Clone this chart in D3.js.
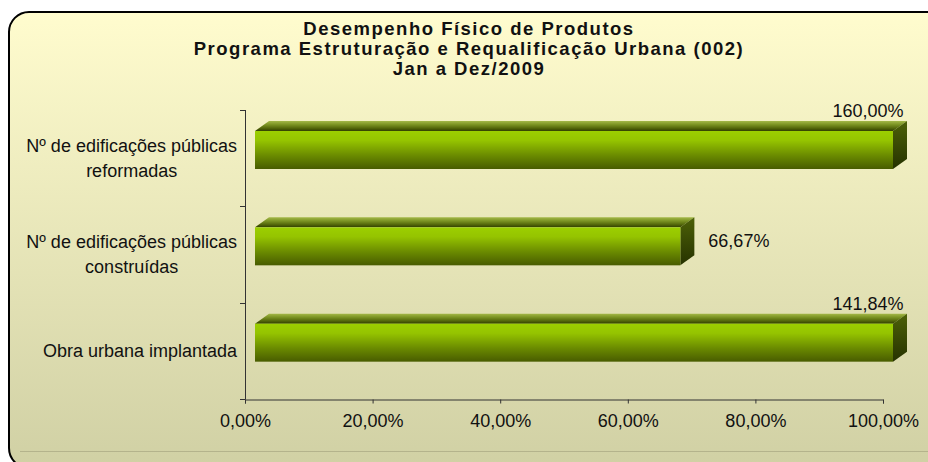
<!DOCTYPE html>
<html>
<head>
<meta charset="utf-8">
<script src="https://cdn.jsdelivr.net/npm/d3@7"></script>
<style>
  html, body { margin: 0; padding: 0; background: #fff; }
  svg { display: block; font-family: 'Liberation Sans', Arial, sans-serif; }
</style>
</head>
<body>
<svg id="chart" width="928" height="462"></svg>
<script>
/* global d3 */
const titleLines = [
  'Desempenho Físico de Produtos',
  'Programa Estruturação e Requalificação Urbana (002)',
  'Jan a Dez/2009'
]
const categories = [
  'Nº de edificações públicas reformadas',
  'Nº de edificações públicas construídas',
  'Obra urbana implantada'
]
const categoryLines = [
  ['Nº de edificações públicas', 'reformadas'],
  ['Nº de edificações públicas', 'construídas'],
  ['Obra urbana implantada']
]
const values = [160.0, 66.67, 141.84]
const xTicks = [0, 20, 40, 60, 80, 100]

const width = 928
const height = 462
const margin = { top: 110, bottom: 63, left: 245, right: 45 }
const depth = { dx: 14, dy: -10 } // 3d offset of the back face
const shift = 10 // front face sits in front of the axis wall
const font = "'Liberation Sans', Arial, sans-serif"

const locale = d3.formatLocale({ decimal: ',', thousands: '.', grouping: [3], currency: ['', ''] })
const fmt = d => locale.format('.2f')(d) + '%'

const svg = d3.select('#chart')
const defs = svg.append('defs')

/** gradients */
const bg = defs.append('linearGradient').attr('id', 'bg').attr('x1', 0).attr('y1', 0).attr('x2', 0).attr('y2', 1)
bg.append('stop').attr('offset', 0).attr('stop-color', '#fffcce')
bg.append('stop').attr('offset', 1).attr('stop-color', '#d0d0a4')

const frontGrad = defs.append('linearGradient').attr('id', 'front').attr('x1', 0).attr('y1', 0).attr('x2', 0).attr('y2', 1)
frontGrad.append('stop').attr('offset', 0).attr('stop-color', '#9ccf00')
frontGrad.append('stop').attr('offset', 0.25).attr('stop-color', '#95c400')
frontGrad.append('stop').attr('offset', 0.65).attr('stop-color', '#6a8a00')
frontGrad.append('stop').attr('offset', 1).attr('stop-color', '#485c00')

const topGrad = defs.append('linearGradient').attr('id', 'topface').attr('x1', 0).attr('y1', 0).attr('x2', 0).attr('y2', 1)
topGrad.append('stop').attr('offset', 0).attr('stop-color', '#a4b848')
topGrad.append('stop').attr('offset', 0.35).attr('stop-color', '#7c9424')
topGrad.append('stop').attr('offset', 0.7).attr('stop-color', '#566a0c')
topGrad.append('stop').attr('offset', 1).attr('stop-color', '#323f00')

const sideGrad = defs.append('linearGradient').attr('id', 'side').attr('x1', 0).attr('y1', 0).attr('x2', 0).attr('y2', 1)
sideGrad.append('stop').attr('offset', 0).attr('stop-color', '#4d6108')
sideGrad.append('stop').attr('offset', 1).attr('stop-color', '#263200')

/** frame */
svg.append('rect')
  .attr('x', 9).attr('y', 12)
  .attr('width', 960).attr('height', 456)
  .attr('rx', 20)
  .attr('fill', 'url(#bg)')
  .attr('stroke', '#000')
  .attr('stroke-width', 2)

svg.append('line')
  .attr('x1', 20).attr('x2', width)
  .attr('y1', 451.5).attr('y2', 451.5)
  .attr('stroke', '#b4b38c')

/** title */
svg.append('g')
  .selectAll('text')
  .data(titleLines)
  .join('text')
  .attr('x', 469)
  .attr('y', (d, i) => 35 + i * 20)
  .attr('text-anchor', 'middle')
  .attr('font-weight', 'bold')
  .attr('font-size', 18.5)
  .attr('letter-spacing', 1.5)
  .attr('fill', '#111')
  .text(d => d)

/** scales */
const x = d3.scaleLinear().domain([0, 100]).range([margin.left, width - margin.right])
const y = d3.scaleBand().domain(categories).range([margin.top, height - margin.bottom])

/** axes */
const axisY = height - margin.bottom + 0.5
svg.append('g')
  .attr('transform', `translate(0,${axisY})`)
  .call(d3.axisBottom(x).tickValues(xTicks).tickSize(4).tickPadding(11).tickFormat(fmt))
  .attr('font-family', font)
  .attr('font-size', 18)
  .call(g => g.select('.domain').attr('stroke', '#333'))
  .call(g => g.selectAll('.tick line').attr('stroke', '#333'))
  .call(g => g.selectAll('text').attr('fill', '#111'))

const bounds = categories.map(c => y(c)).concat([y.range()[1]])
const yAxis = svg.append('g')
yAxis.append('line')
  .attr('x1', margin.left + 0.5).attr('x2', margin.left + 0.5)
  .attr('y1', y.range()[0]).attr('y2', axisY)
  .attr('stroke', '#333')
yAxis.selectAll('.ytick')
  .data(bounds)
  .join('line')
  .attr('class', 'ytick')
  .attr('x1', margin.left - 5).attr('x2', margin.left + 0.5)
  .attr('y1', d => Math.round(d) + 0.5).attr('y2', d => Math.round(d) + 0.5)
  .attr('stroke', '#333')

/** category labels: lines centred in a block, block right aligned */
const labelRight = 237
categoryLines.forEach((lines, i) => {
  const g = svg.append('g')
  const cy = y(categories[i]) + y.bandwidth() / 2
  const t = g.selectAll('text')
    .data(lines)
    .join('text')
    .attr('font-size', 18)
    .attr('fill', '#111')
    .attr('text-anchor', 'middle')
    .attr('y', (d, j) => cy + 6 + (j - (lines.length - 1) / 2) * 25)
    .text(d => d)
  const w = d3.max(t.nodes(), n => n.getComputedTextLength())
  t.attr('x', labelRight - w / 2)
})

/** bars */
const barTop = 21
const barH = 38
const bars = svg.append('g')
  .selectAll('g')
  .data(values)
  .join('g')

const x0 = x(0) + shift
const xe = d => x(Math.min(d, 100)) + shift
const yt = (d, i) => y(categories[i]) + barTop

bars.append('path')
  .attr('d', (d, i) => {
    const t = yt(d, i)
    return `M${x0},${t}L${x0 + depth.dx},${t + depth.dy}L${xe(d) + depth.dx},${t + depth.dy}L${xe(d)},${t}Z`
  })
  .attr('fill', 'url(#topface)')

bars.append('path')
  .attr('d', (d, i) => {
    const t = yt(d, i)
    return `M${xe(d)},${t}L${xe(d) + depth.dx},${t + depth.dy}L${xe(d) + depth.dx},${t + barH + depth.dy}L${xe(d)},${t + barH}Z`
  })
  .attr('fill', 'url(#side)')

bars.append('rect')
  .attr('x', x0)
  .attr('y', (d, i) => yt(d, i))
  .attr('width', d => xe(d) - x0)
  .attr('height', barH)
  .attr('fill', 'url(#front)')

/** value labels */
bars.append('text')
  .attr('font-size', 18)
  .attr('fill', '#111')
  .attr('text-anchor', d => (d > 100 ? 'middle' : 'start'))
  .attr('x', d => (d > 100 ? x(100) - 15 : xe(d) + depth.dx + 14))
  .attr('y', (d, i) => (d > 100 ? yt(d, i) + depth.dy - 4 : yt(d, i) + barH / 2 + depth.dy / 2 + 6))
  .text(d => fmt(d))
</script>
</body>
</html>
